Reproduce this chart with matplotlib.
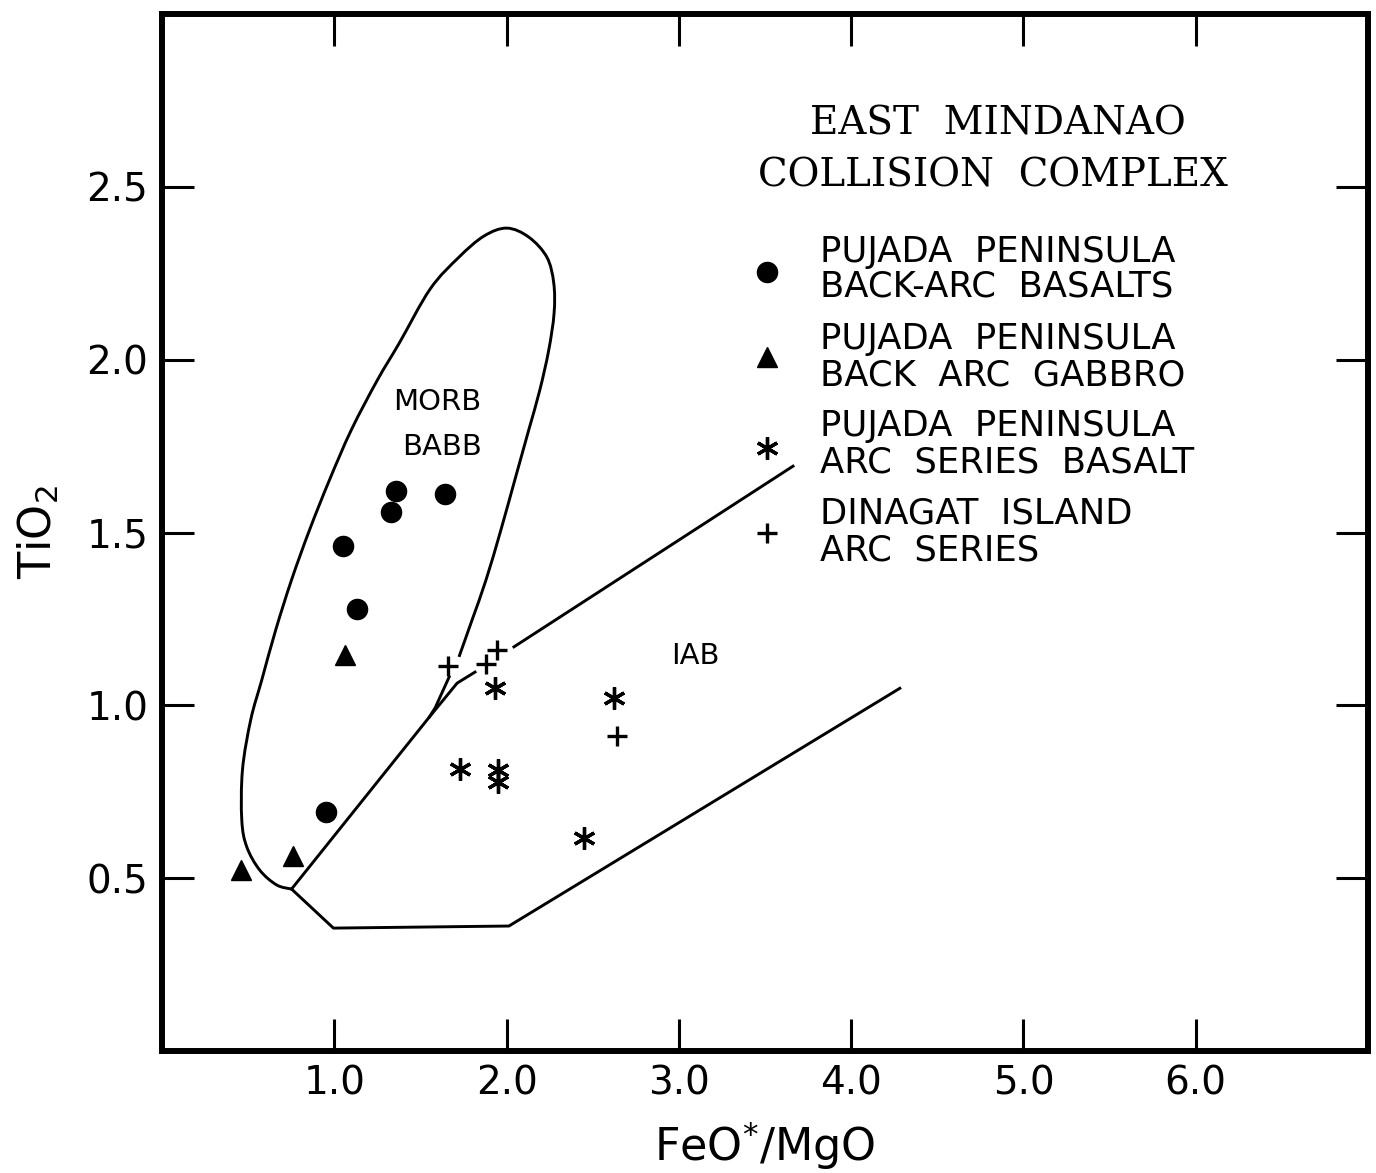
import matplotlib
matplotlib.use("Agg")
import matplotlib.pyplot as plt
from matplotlib.path import Path
from matplotlib.patches import PathPatch

# ---- data (FeO*/MgO, TiO2) ----
basalt_x = [1.05, 1.13, 1.33, 1.36, 1.64, 0.95]
basalt_y = [1.46, 1.28, 1.56, 1.62, 1.61, 0.69]

gabbro_x = [1.06, 0.46, 0.76]
gabbro_y = [1.145, 0.523, 0.563]

arc_basalt_x = [1.93, 1.73, 1.95, 1.95, 2.62, 2.45]
arc_basalt_y = [1.05, 0.815, 0.812, 0.779, 1.02, 0.615]

dinagat_x = [1.66, 1.88, 1.945, 2.64]
dinagat_y = [1.115, 1.12, 1.16, 0.912]

# MORB/BABB field outline (traced points)
morb_x = [0.751, 0.664, 0.566, 0.491, 0.462, 0.466, 0.514, 0.578, 0.659, 0.751,
          0.855, 0.971, 1.098, 1.249, 1.376, 1.556, 1.723, 1.868, 2.001, 2.128,
          2.233, 2.273, 2.275, 2.244, 2.192, 2.128, 2.047, 1.966, 1.880, 1.799, 1.723]
morb_y = [0.468, 0.480, 0.523, 0.590, 0.668, 0.813, 0.958, 1.073, 1.218, 1.363,
          1.507, 1.652, 1.797, 1.941, 2.048, 2.205, 2.297, 2.358, 2.381, 2.355,
          2.297, 2.222, 2.135, 2.028, 1.912, 1.797, 1.652, 1.507, 1.363, 1.247, 1.140]
morb_tail_x = [1.666, 1.585, 1.551]
morb_tail_y = [1.082, 0.993, 0.966]

# IAB field boundaries
iab_upper1_x = [0.751, 1.551, 1.712, 1.816]
iab_upper1_y = [0.468, 0.966, 1.064, 1.096]
iab_upper2_x = [2.042, 3.662]
iab_upper2_y = [1.169, 1.692]
iab_lower_x = [0.751, 0.994, 2.013, 4.282]
iab_lower_y = [0.468, 0.355, 0.361, 1.049]

x_ticks = [1.0, 2.0, 3.0, 4.0, 5.0, 6.0]
x_ticklabels = ["1.0", "2.0", "3.0", "4.0", "5.0", "6.0"]
y_ticks = [0.5, 1.0, 1.5, 2.0, 2.5]
y_ticklabels = ["0.5", "1.0", "1.5", "2.0", "2.5"]

legend_labels = [
    ("PUJADA  PENINSULA", "BACK-ARC  BASALTS"),
    ("PUJADA  PENINSULA", "BACK  ARC  GABBRO"),
    ("PUJADA  PENINSULA", "ARC  SERIES  BASALT"),
    ("DINAGAT  ISLAND", "ARC  SERIES"),
]

plt.rcParams['font.family'] = ['DejaVu Sans']
plt.rcParams['mathtext.fontset'] = 'dejavusans'


def smooth_path(xs, ys):
    """Cubic Bezier path passing through every traced point (Catmull-Rom handles)."""
    pts = list(zip(xs, ys))
    n = len(pts)
    verts = [pts[0]]
    codes = [Path.MOVETO]
    for i in range(n - 1):
        p0 = pts[i - 1] if i > 0 else pts[i]
        p1 = pts[i]
        p2 = pts[i + 1]
        p3 = pts[i + 2] if i + 2 < n else pts[i + 1]
        c1 = (p1[0] + (p2[0] - p0[0]) / 6.0, p1[1] + (p2[1] - p0[1]) / 6.0)
        c2 = (p2[0] - (p3[0] - p1[0]) / 6.0, p2[1] - (p3[1] - p1[1]) / 6.0)
        verts += [c1, c2, p2]
        codes += [Path.CURVE4] * 3
    return Path(verts, codes)


fig = plt.figure(figsize=(13.76, 11.73), dpi=100)
ax = fig.add_axes([162.2 / 1376, 1 - 1050.75 / 1173, 1205.8 / 1376, 1036.5 / 1173])
ax.set_xlim(0, 7)
ax.set_ylim(0, 3)

lw = 2.1
ax.add_patch(PathPatch(smooth_path(morb_x, morb_y), facecolor='none',
                       edgecolor='black', lw=lw))
ax.plot(morb_tail_x, morb_tail_y, color='black', lw=lw)
ax.plot(iab_upper1_x, iab_upper1_y, color='black', lw=lw)
ax.plot(iab_upper2_x, iab_upper2_y, color='black', lw=lw)
ax.plot(iab_lower_x, iab_lower_y, color='black', lw=lw)

mk_circle = dict(marker='o', ms=14.5, color='black', ls='none')
mk_tri = dict(marker='^', ms=15, color='black', ls='none')
mk_ast = dict(marker=(6, 2, 0), ms=16, mew=2.4, color='black', ls='none')
mk_plus = dict(marker='+', ms=15, mew=2.4, color='black', ls='none')

ax.plot(basalt_x, basalt_y, **mk_circle)
ax.plot(gabbro_x, gabbro_y, **mk_tri)
ax.plot(arc_basalt_x, arc_basalt_y, **mk_ast)
ax.plot(dinagat_x, dinagat_y, **mk_plus)

# field labels
ax.text(1.596, 1.878, "MORB", fontsize=21, ha='center', va='center')
ax.text(1.623, 1.747, "BABB", fontsize=21, ha='center', va='center')
ax.text(3.095, 1.142, "IAB", fontsize=21, ha='center', va='center')

# title
ax.text(0.6931, 0.8940, "EAST  MINDANAO", transform=ax.transAxes,
        family='DejaVu Serif', fontsize=28, ha='center', va='center')
ax.text(0.689, 0.8438, "COLLISION  COMPLEX", transform=ax.transAxes,
        family='DejaVu Serif', fontsize=28, ha='center', va='center')

# legend (manual)
marker_styles = [mk_circle, mk_tri, mk_ast, mk_plus]
marker_y = [0.7513, 0.6693, 0.5815, 0.4995]
line_y = [(0.7706, 0.7378), (0.6867, 0.6519), (0.6027, 0.5680), (0.5188, 0.4831)]
for style, my, (y1, y2), (l1, l2) in zip(marker_styles, marker_y, line_y, legend_labels):
    ax.plot([0.5016], [my], transform=ax.transAxes, clip_on=False, **style)
    ax.text(0.5455, y1, l1, transform=ax.transAxes, fontsize=25.5, ha='left', va='center')
    ax.text(0.5455, y2, l2, transform=ax.transAxes, fontsize=25.5, ha='left', va='center')

# axes styling
ax.set_xticks(x_ticks)
ax.set_xticklabels(x_ticklabels)
ax.set_yticks(y_ticks)
ax.set_yticklabels(y_ticklabels)
ax.tick_params(direction='in', length=23, width=2.2, top=True, right=True,
               labelsize=28, pad=10, colors='black')
for sp in ax.spines.values():
    sp.set_linewidth(4.3)
ax.set_xlabel(r"FeO$^{*}$/MgO", fontsize=32, labelpad=12)
ax.set_ylabel(r"TiO$_2$", fontsize=32, labelpad=18)

fig.savefig("out.png", dpi=100)
